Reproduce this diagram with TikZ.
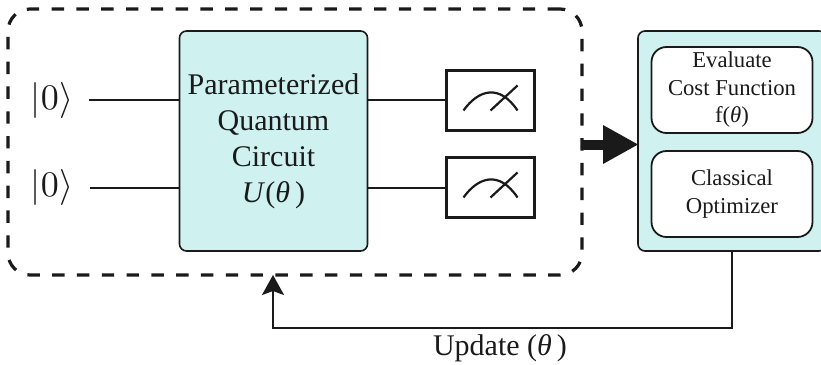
\documentclass[tikz,border=0pt]{standalone}
\usepackage{fontspec}
\usepackage{graphicx}
\setmainfont{Liberation Serif}
\usetikzlibrary{arrows.meta}
\definecolor{boxfill}{HTML}{CFF2F1}
\definecolor{ink}{HTML}{1A1A1A}
\tikzset{
  every node/.style={inner sep=0pt,outer sep=0pt,text=ink},
  bigfont/.style={font=\fontsize{30}{36}\selectfont,align=center},
  smallfont/.style={font=\fontsize{22.7}{27.5}\selectfont,align=center},
  tealbox/.style={draw=ink,line width=1.6pt,fill=boxfill,rounded corners=7pt,anchor=center},
  innerbox/.style={draw=ink,line width=1.8pt,fill=white,rounded corners=15pt,minimum width=161pt,minimum height=86pt,smallfont},
  meterbox/.style={draw=ink,line width=2.5pt,minimum width=88pt,minimum height=60pt},
  wire/.style={draw=ink,line width=2pt},
  dial/.style={draw=ink,line width=2.2pt},
  ket/.style={font=\fontsize{10}{12}\selectfont}
}
\begin{document}
\begin{tikzpicture}[x=1pt,y=-1pt]
\useasboundingbox (0,0) rectangle (821,364);
\node[draw=ink,line width=3.2pt,dash pattern=on 12.4pt off 12.4pt,rounded corners=22pt,minimum width=574pt,minimum height=266pt] (quantum) at (295,142) {};
\node[tealbox,minimum width=188pt,minimum height=220pt,bigfont] (pqc) at (273.5,141) {Parameterized\\Quantum\\Circuit\\\textit{U}(\textit{θ}\,)};
\node[tealbox,minimum width=188pt,minimum height=220pt] (classical) at (732,141) {};
\node[innerbox] (cost) at (732,90) {Evaluate\\Cost Function\\f(\textit{θ})};
\node[innerbox] (optimizer) at (732,194) {Classical\\Optimizer};
\node[ket] (ketA) at (52,100) {\scalebox{3.6}{$|0\rangle$}};
\node[ket] (ketB) at (52,187) {\scalebox{3.6}{$|0\rangle$}};
\coordinate (wireA) at (89,100);
\coordinate (wireB) at (90,188);
\node[meterbox] (meterA) at (490.5,100.5) {};
\node[meterbox] (meterB) at (490.5,187.5) {};
\draw[wire] (wireA) -- (pqc.west |- wireA);
\draw[wire] (wireB) -- (pqc.west |- wireB);
\draw[wire] (pqc.east |- wireA) -- (meterA.west |- wireA);
\draw[wire] (pqc.east |- wireB) -- (meterB.west |- wireB);
\foreach \m in {meterA,meterB}{
  \draw[dial] ([shift={(-27,10)}]\m.center) .. controls ([shift={(-12,-11)}]\m.center) and ([shift={(9,-17)}]\m.center) .. ([shift={(27,10)}]\m.center);
  \draw[dial] ([shift={(0,10)}]\m.center) -- ([shift={(27,-15)}]\m.center);
}
\coordinate (flowA) at (582,144.5);
\coordinate (flowB) at (638,144.5);
\draw[draw=ink,fill=ink,line width=10pt,-{Triangle[length=35pt,width=39pt,fill=ink,line width=0pt]}] (flowA) -- (flowB);
\coordinate (feedback) at (273,328);
\draw[wire,-{Stealth[length=20pt,width=22pt,inset=4pt,fill=ink]}] (classical.south) |- (feedback) -- (quantum.south -| feedback);
\node[bigfont] (update) at (500,348) {Update (\textit{θ}\,)};
\end{tikzpicture}
\end{document}
